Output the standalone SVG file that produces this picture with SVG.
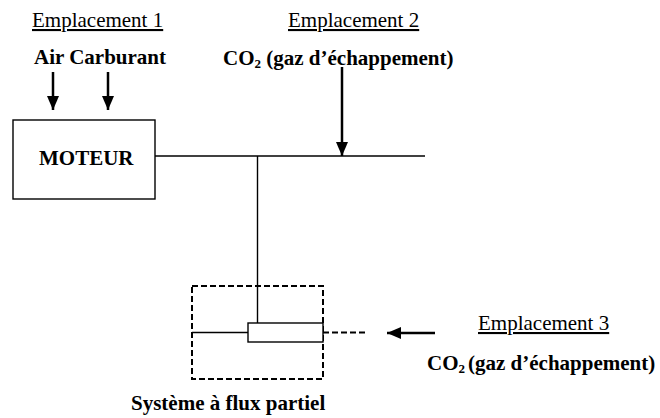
<svg xmlns="http://www.w3.org/2000/svg" width="660" height="418" viewBox="0 0 660 418">
<defs>
<style>
text{font-family:"Liberation Serif","Times New Roman",serif;font-size:21px;fill:#000}
.b{font-weight:bold}
.u{text-decoration:underline}
.ln{stroke:#000;stroke-width:1.4;fill:none}
.ar{stroke:#000;stroke-width:2.5;fill:none}
.dash{stroke:#000;stroke-width:2;fill:none;stroke-dasharray:6 3}
.box{fill:#fff;stroke:#000;stroke-width:1.4}
</style>
<marker id="ah" markerUnits="userSpaceOnUse" markerWidth="14" markerHeight="12" refX="14" refY="6" orient="auto">
<path d="M0,0 L14,6 L0,12 Z" fill="#000"/>
</marker>
</defs>
<rect width="660" height="418" fill="#fff"/>

<g id="labels">
<text class="u" x="32" y="27">Emplacement 1</text>
<text class="b" x="34" y="64">Air Carburant</text>
<text class="u" x="288" y="27">Emplacement 2</text>
<text class="b" x="223" y="65">CO<tspan font-size="13" dy="3">2</tspan><tspan dy="-3"> (gaz d’échappement)</tspan></text>
<text class="u" x="478" y="330">Emplacement 3</text>
<text class="b" x="427" y="370">CO<tspan font-size="13" dy="3">2</tspan><tspan dy="-3" dx="3">(gaz d’échappement)</tspan></text>
</g>

<g id="connectors">
<line class="ln" x1="155" y1="156" x2="425" y2="156"/>
<line class="ln" x1="257.5" y1="156" x2="257.5" y2="323"/>
<line class="ln" x1="192" y1="332.5" x2="248" y2="332.5"/>
<line class="dash" x1="323" y1="332.5" x2="368" y2="332.5"/>
<line class="ar" x1="53" y1="72" x2="53" y2="110" marker-end="url(#ah)"/>
<line class="ar" x1="108" y1="72" x2="108" y2="110" marker-end="url(#ah)"/>
<line class="ar" x1="342" y1="67" x2="342" y2="156" marker-end="url(#ah)"/>
<line class="ar" x1="435" y1="333" x2="387" y2="333" marker-end="url(#ah)"/>
</g>

<g id="moteur">
<rect class="box" x="13" y="120" width="142" height="79"/>
<text class="b" x="39" y="165">MOTEUR</text>
</g>

<g id="systeme">
<rect class="dash" x="192" y="286" width="131" height="93"/>
<rect class="box" x="248" y="323" width="75" height="19"/>
<text class="b" x="131" y="410">Système à flux partiel</text>
</g>
</svg>
